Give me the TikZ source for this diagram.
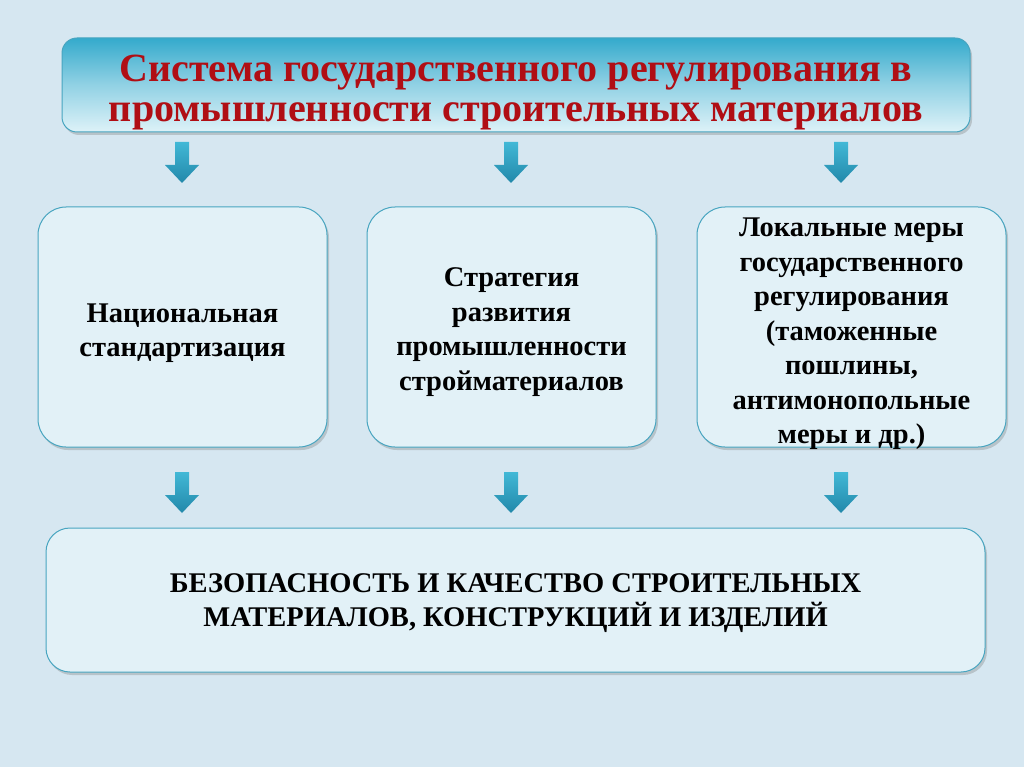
\documentclass[tikz,border=0pt]{standalone}
\usepackage{fontspec}
\setmainfont{Liberation Serif}
\usetikzlibrary{shadows,calc}
\definecolor{bg}{RGB}{214,231,241}
\definecolor{titletop}{RGB}{52,170,204}
\definecolor{titlebot}{RGB}{222,242,248}
\definecolor{titlered}{RGB}{176,14,20}
\definecolor{boxfill}{RGB}{226,241,247}
\definecolor{boxline}{RGB}{72,165,192}
\definecolor{arrtop}{RGB}{66,184,214}
\definecolor{arrbot}{RGB}{34,136,170}
\tikzset{
  titlebox/.style={draw=boxline, line width=1pt, rounded corners=15pt,
    top color=titletop, bottom color=titlebot, middle color=titletop!45!titlebot,
    inner sep=0pt,
    drop shadow={shadow xshift=2pt, shadow yshift=-3pt, opacity=0.35}},
  titletxt/.style={align=center, text=titlered, inner sep=0pt,
    font=\bfseries\fontsize{40}{40}\selectfont},
  itembox/.style={draw=boxline, line width=1pt, rounded corners=28pt,
    fill=boxfill, inner sep=0pt,
    drop shadow={shadow xshift=2pt, shadow yshift=-3pt, opacity=0.35}},
  itemtxt/.style={align=center, text=black, inner sep=0pt,
    font=\bfseries\fontsize{28.5}{34.5}\selectfont},
  resultbox/.style={itembox, rounded corners=24pt},
  resulttxt/.style={itemtxt, font=\bfseries\fontsize{28.5}{34}\selectfont},
  arrowshade/.style={top color=arrtop, bottom color=arrbot}
}
\newcommand\blockarrow[3]{%
  \begin{scope}[shift={(#2,#3)}]
    \coordinate (#1) at (0,0);
    \shade[arrowshade] (-7,0) -- (7,0) -- (7,23) -- (17,23) -- (0,41)
      -- (-17,23) -- (-7,23) -- cycle;
  \end{scope}}
\begin{document}
\begin{tikzpicture}[x=1pt,y=-1pt]
\fill[bg] (0,0) rectangle (1024,767);
\useasboundingbox (0,0) rectangle (1024,767);

\node[titlebox, minimum width=908pt, minimum height=94pt] (title) at (516,85) {};
\node[titletxt] (titletext) at (title.center) [yshift=-8pt]
  {Система государственного регулирования в\\промышленности строительных материалов};

\node[itembox, minimum width=289pt, minimum height=240pt] (b1) at (182.5,327) {};
\node[itembox, minimum width=289pt, minimum height=240pt] (b2) at (511.5,327) {};
\node[itembox, minimum width=309pt, minimum height=240pt] (b3) at (851.5,327) {};
\node[itemtxt] (t1) at (182.5,333)
  {Национальная\\стандартизация};
\node[itemtxt] (t2) at (511.5,332)
  {Стратегия\\развития\\промышленности\\стройматериалов};
\node[itemtxt] (t3) at (851.5,334)
  {Локальные меры\\государственного\\регулирования\\(таможенные\\пошлины,\\антимонопольные\\меры и др.)};

\node[resultbox, minimum width=939pt, minimum height=144pt] (res) at (515.5,600) {};
\node[resulttxt] (restext) at (515.5,603)
  {БЕЗОПАСНОСТЬ И КАЧЕСТВО СТРОИТЕЛЬНЫХ\\МАТЕРИАЛОВ, КОНСТРУКЦИЙ И ИЗДЕЛИЙ};

\blockarrow{a1}{182}{142}
\blockarrow{a2}{511}{142}
\blockarrow{a3}{841}{142}
\blockarrow{a4}{182}{472}
\blockarrow{a5}{511}{472}
\blockarrow{a6}{841}{472}
\end{tikzpicture}
\end{document}
